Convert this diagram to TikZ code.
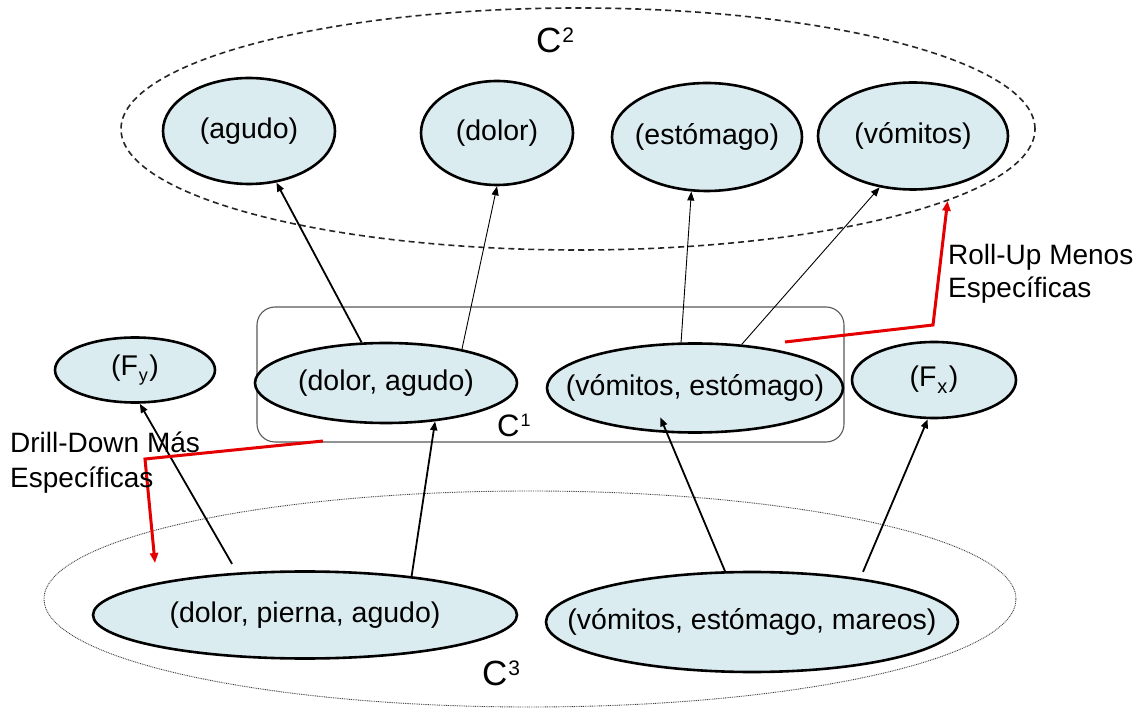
\documentclass[tikz,border=0pt]{standalone}
\usepackage{fontspec}
\setmainfont{Liberation Sans}
\usetikzlibrary{shapes.geometric,arrows.meta}

\definecolor{termfill}{RGB}{219,236,241}
\definecolor{navred}{RGB}{228,0,0}

% text centred on the node without widening the ellipse
\newcommand\centred[1]{\makebox[0pt][c]{#1}}
\newcommand\supC[3]{C\hspace{1pt}\raisebox{#2}{\fontsize{#1}{#1}\selectfont #3}}
\newcommand\subF[3]{(F\hspace{1pt}\raisebox{#2}{\fontsize{#1}{#1}\selectfont #3}\hspace{1.5pt})}

\tikzset{
  term/.style={ellipse, draw=black, line width=2.6pt, fill=termfill, inner sep=0pt,
               font=\fontsize{28.5}{34}\selectfont},
  setbox/.style={draw=black!65, line width=1.1pt, rounded corners=18pt, inner sep=0pt},
  setC2/.style={ellipse, draw=black!85, line width=1.6pt, dash pattern=on 6pt off 4pt, inner sep=0pt},
  setC3/.style={ellipse, draw=black!75, line width=0.9pt, dash pattern=on 0.9pt off 0.9pt, inner sep=0pt},
  thicklink/.style={-{Triangle[length=9pt,width=7pt]}, line width=1.8pt},
  thinlink/.style={-{Triangle[length=9pt,width=7pt]}, line width=0.9pt},
  navlink/.style={-{Triangle[length=10pt,width=8pt]}, draw=navred, line width=3pt},
  caption/.style={anchor=base west, inner sep=0pt, font=\fontsize{28}{34}\selectfont},
  setname/.style={anchor=base west, inner sep=0pt},
}

\begin{document}
\begin{tikzpicture}[x=1pt, y=-1pt]
  \fill[white] (0,0) rectangle (1144,708);
  \useasboundingbox (0,0) rectangle (1144,708);

  % grouping outlines
  \node[setC2, minimum width=914pt, minimum height=242pt] (c2) at (578,129) {};
  \node[setC3, minimum width=972pt, minimum height=216pt] (c3) at (530,599) {};
  \node[setbox, minimum width=587pt, minimum height=135pt] (c1box) at (550.5,374.5) {};

  % C2: single terms
  \node[term, minimum width=172pt, minimum height=106pt] (agudo) at (249,131) {\centred{(agudo)}};
  \node[term, minimum width=152pt, minimum height=104pt] (dolor) at (497,133) {\centred{(dolor)}};
  \node[term, minimum width=190pt, minimum height=108pt] (est) at (707,137) {\centred{(estómago)}};
  \node[term, minimum width=190pt, minimum height=107pt] (vom) at (913,136) {\centred{(vómitos)}};

  % C1: pairs and the F nodes
  \node[term, minimum width=262pt, minimum height=80pt] (da) at (386,383) {\centred{(dolor, agudo)}};
  \node[term, minimum width=296pt, minimum height=89pt] (ve) at (695,388) {\centred{(vómitos, estómago)}};
  \node[term, minimum width=160pt, minimum height=65pt] (fy) at (135,370) {\centred{\subF{18}{-6pt}{y}}};
  \node[term, minimum width=164pt, minimum height=76pt] (fx) at (934,380) {\centred{\subF{20}{-7pt}{x}}};

  % C3: triples
  \node[term, minimum width=424pt, minimum height=87pt] (dpa) at (305,615) {\centred{(dolor, pierna, agudo)}};
  \node[term, minimum width=412pt, minimum height=100pt] (vem) at (752,622) {\centred{(vómitos, estómago, mareos)}};

  % set labels
  \node[setname, font=\fontsize{35}{35}\selectfont] (lc2) at (536,53) {\supC{21}{10pt}{2}};
  \node[setname, font=\fontsize{31}{31}\selectfont] (lc1) at (497,437) {\supC{18}{10pt}{1}};
  \node[setname, font=\fontsize{35}{35}\selectfont] (lc3) at (482,685) {\supC{21}{10pt}{3}};

  % generalisation arrows C1 -> C2
  \draw[thicklink] (da.121) -- (agudo.298);
  \draw[thinlink] (da.24) -- (dolor.270);
  \draw[thinlink] (ve.107) -- (est.254);
  \draw[thinlink] (ve.43) -- (vom.237);

  % generalisation arrows C3 -> C1
  \draw[thicklink, shorten <=10pt] (dpa.148) -- (fy.278);
  \draw[thicklink] (dpa.20) -- (da.322);
  \draw[thicklink, shorten >=-17pt] (vem.118) -- (ve.238);
  \draw[thicklink, shorten <=7pt] (vem.22) -- (fx.261);

  % roll-up
  \coordinate (ru0) at (785,342);
  \coordinate (ru1) at (933,325);
  \draw[navlink] (ru0) -- (ru1) -- (c2.349);
  \node[caption] (rutop) at (948,265) {Roll-Up Menos};
  \node[caption] (rubot) at (948,298) {Específicas};

  % drill-down
  \coordinate (dd0) at (323,441);
  \coordinate (dd1) at (145,459);
  \coordinate (dd2) at (155,563);
  \draw[navlink] (dd0) -- (dd1) -- (dd2);
  \node[caption] (ddtop) at (10,453) {Drill-Down Más};
  \node[caption] (ddbot) at (10,488) {Específicas};
\end{tikzpicture}
\end{document}
